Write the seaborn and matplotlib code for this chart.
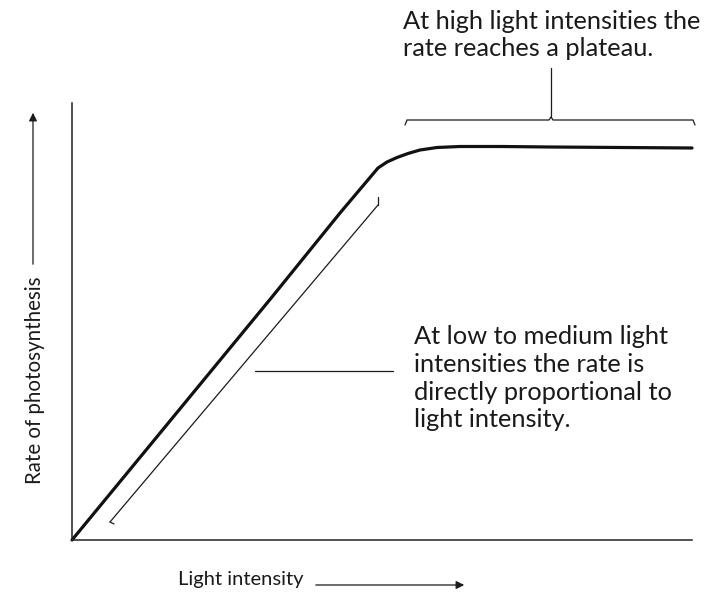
import numpy as np
import pandas as pd
import matplotlib
matplotlib.use("Agg")
import matplotlib.pyplot as plt
import seaborn as sns

# light-response curve (arbitrary units)
light = [0, 100, 200, 268, 306, 315, 325, 336, 348, 365, 388, 430, 478, 550, 620]
rate = [0, 121.5, 243, 327, 372, 378, 382.5, 386.5, 390, 392.5, 393.5, 393.5, 393, 392.5, 392]

top_note = "At high light intensities the\nrate reaches a plateau."
low_note = "At low to medium light\nintensities the rate is\ndirectly proportional to\nlight intensity."
x_label = "Light intensity"
y_label = "Rate of photosynthesis"

sns.set_theme(style="white")
plt.rcParams['font.family'] = ['Lato', 'DejaVu Sans']

df = pd.DataFrame({"light": light, "rate": rate})

fig = plt.figure(figsize=(7.08, 5.97), dpi=100)
ax = fig.add_axes([72/708, 57/597, 620/708, 437/597])

sns.lineplot(data=df, x="light", y="rate", ax=ax, color="#111111",
             linewidth=2.3, clip_on=False)

ax.set_xlim(0, 620)
ax.set_ylim(0, 437)
ax.set_xticks([])
ax.set_yticks([])
ax.set_xlabel("")
ax.set_ylabel("")
sns.despine(ax=ax)
for s in ["left", "bottom"]:
    ax.spines[s].set_color("#222222")
    ax.spines[s].set_linewidth(1.1)

ink = "#1a1a1a"

# bracket along the linear part
ax.plot([38, 306], [18, 335], color=ink, lw=0.9)
ax.plot([38, 42], [18, 16], color=ink, lw=0.9)
ax.plot([306, 306], [335, 343], color=ink, lw=0.9)
ax.plot([183, 321], [169, 169], color=ink, lw=0.9)
ax.text(342, 215, low_note, fontsize=18.3, color=ink, va="top", ha="left",
        linespacing=1.25)

# bracket over the plateau
ax.plot([333, 335, 477, 479, 481, 621, 623], [415, 420, 420, 423, 420, 420, 415],
        color=ink, lw=0.9, clip_on=False)
ax.plot([479, 479], [423, 472], color=ink, lw=0.9, clip_on=False)
ax.text(331, 530, top_note, fontsize=18.3, color=ink, va="top", ha="left",
        linespacing=1.2, clip_on=False)

# axis labels with arrows
ax.text(106, -40, x_label, fontsize=14.5, color=ink, va="center", ha="left",
        clip_on=False)
ax.annotate("", xy=(395, -45), xytext=(241, -45),
            arrowprops=dict(arrowstyle="-|>", color=ink, lw=0.9,
                            mutation_scale=12), annotation_clip=False)
ax.text(-37, 160, y_label, fontsize=14.8, color=ink, va="center", ha="center",
        rotation=90, clip_on=False)
ax.annotate("", xy=(-39, 430), xytext=(-39, 273),
            arrowprops=dict(arrowstyle="-|>", color=ink, lw=0.9,
                            mutation_scale=12), annotation_clip=False)

fig.savefig("out.png", dpi=100)
